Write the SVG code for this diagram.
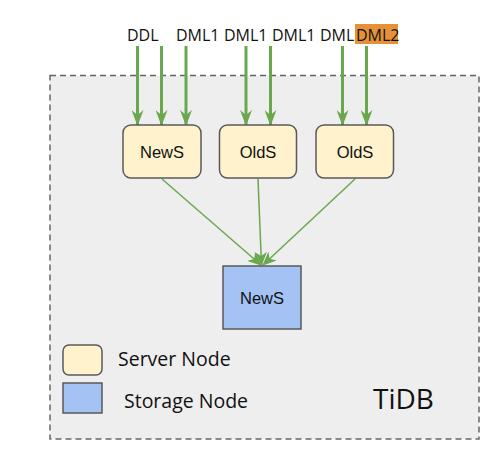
<svg xmlns="http://www.w3.org/2000/svg" width="500" height="454" viewBox="0 0 500 454">
  <defs>
    <marker id="ah" viewBox="0 0 16 12" refX="15" refY="6" markerWidth="16" markerHeight="12" markerUnits="userSpaceOnUse" orient="auto">
      <path d="M0,0 L16,6 L0,12 L5,6 z" fill="#6aa84f"/>
    </marker>
    <marker id="ah2" viewBox="0 0 14 12" refX="13" refY="6" markerWidth="14" markerHeight="12" markerUnits="userSpaceOnUse" orient="auto">
      <path d="M0,0 L14,6 L0,12 L4,6 z" fill="#6aa84f"/>
    </marker>
    <style>
      .lbl { font-family: "Open Sans", "Noto Sans", sans-serif; font-size: 16px; fill: #111; }
      .srv { fill: #fff2cc; stroke: #595959; stroke-width: 1.5; }
      .sto { fill: #a4c2f4; stroke: #595959; stroke-width: 1.5; }
      .nt { font-family: "Liberation Sans", Arial, sans-serif; font-size: 16.5px; fill: #111; text-anchor: middle; }
      .in { stroke: #6aa84f; stroke-width: 3; fill: none; marker-end: url(#ah); }
      .out { stroke: #6aa84f; stroke-width: 1.5; fill: none; marker-end: url(#ah2); }
      .leg { font-family: "Open Sans", "Noto Sans", sans-serif; font-size: 19.5px; fill: #111; }
    </style>
  </defs>
  <rect width="500" height="454" fill="#ffffff"/>
  <g id="tidb">
    <rect x="50" y="75.5" width="429" height="363.5" fill="#eeeeee" stroke="#666666" stroke-width="1.5" stroke-dasharray="6 4"/>
    <text x="373" y="409" style="font-family: 'Open Sans', 'Noto Sans', sans-serif; font-size: 28px; fill: #111;">TiDB</text>
  </g>
  <g id="labels">
    <text class="lbl" x="127" y="41">DDL</text>
    <text class="lbl" x="176" y="41">DML1</text>
    <text class="lbl" x="224" y="41">DML1</text>
    <text class="lbl" x="272" y="41">DML1</text>
    <text class="lbl" x="320" y="41">DML</text>
    <rect x="355" y="24" width="43" height="20" fill="#e69138"/>
    <text class="lbl" x="356" y="41">DML2</text>
  </g>
  <g id="connectors">
    <line class="in" x1="137.5" y1="46" x2="137.5" y2="125"/>
    <line class="in" x1="161.5" y1="46" x2="161.5" y2="125"/>
    <line class="in" x1="186" y1="46" x2="186" y2="125"/>
    <line class="in" x1="246" y1="46" x2="246" y2="125"/>
    <line class="in" x1="270.5" y1="46" x2="270.5" y2="125"/>
    <line class="in" x1="342.5" y1="46" x2="342.5" y2="125"/>
    <line class="in" x1="366.5" y1="46" x2="366.5" y2="125"/>
    <line class="out" x1="162" y1="179" x2="261" y2="265"/>
    <line class="out" x1="258" y1="179" x2="261.5" y2="265"/>
    <line class="out" x1="355" y1="179" x2="263" y2="265"/>
  </g>
  <g id="news-server">
    <rect class="srv" x="123" y="125" width="78" height="53" rx="8"/>
    <text class="nt" x="162" y="157.5">NewS</text>
  </g>
  <g id="olds-server-1">
    <rect class="srv" x="219.5" y="125" width="77" height="53" rx="8"/>
    <text class="nt" x="258" y="157.5">OldS</text>
  </g>
  <g id="olds-server-2">
    <rect class="srv" x="316" y="125" width="77.5" height="53" rx="8"/>
    <text class="nt" x="355" y="157.5">OldS</text>
  </g>
  <g id="news-storage">
    <rect class="sto" x="223" y="266" width="78" height="63"/>
    <text class="nt" x="262" y="304">NewS</text>
  </g>
  <g id="legend">
    <rect class="srv" x="63" y="345" width="39" height="30" rx="6"/>
    <text class="leg" x="118" y="366">Server Node</text>
    <rect class="sto" x="63" y="383" width="39" height="30"/>
    <text class="leg" x="124" y="408">Storage Node</text>
  </g>
</svg>
